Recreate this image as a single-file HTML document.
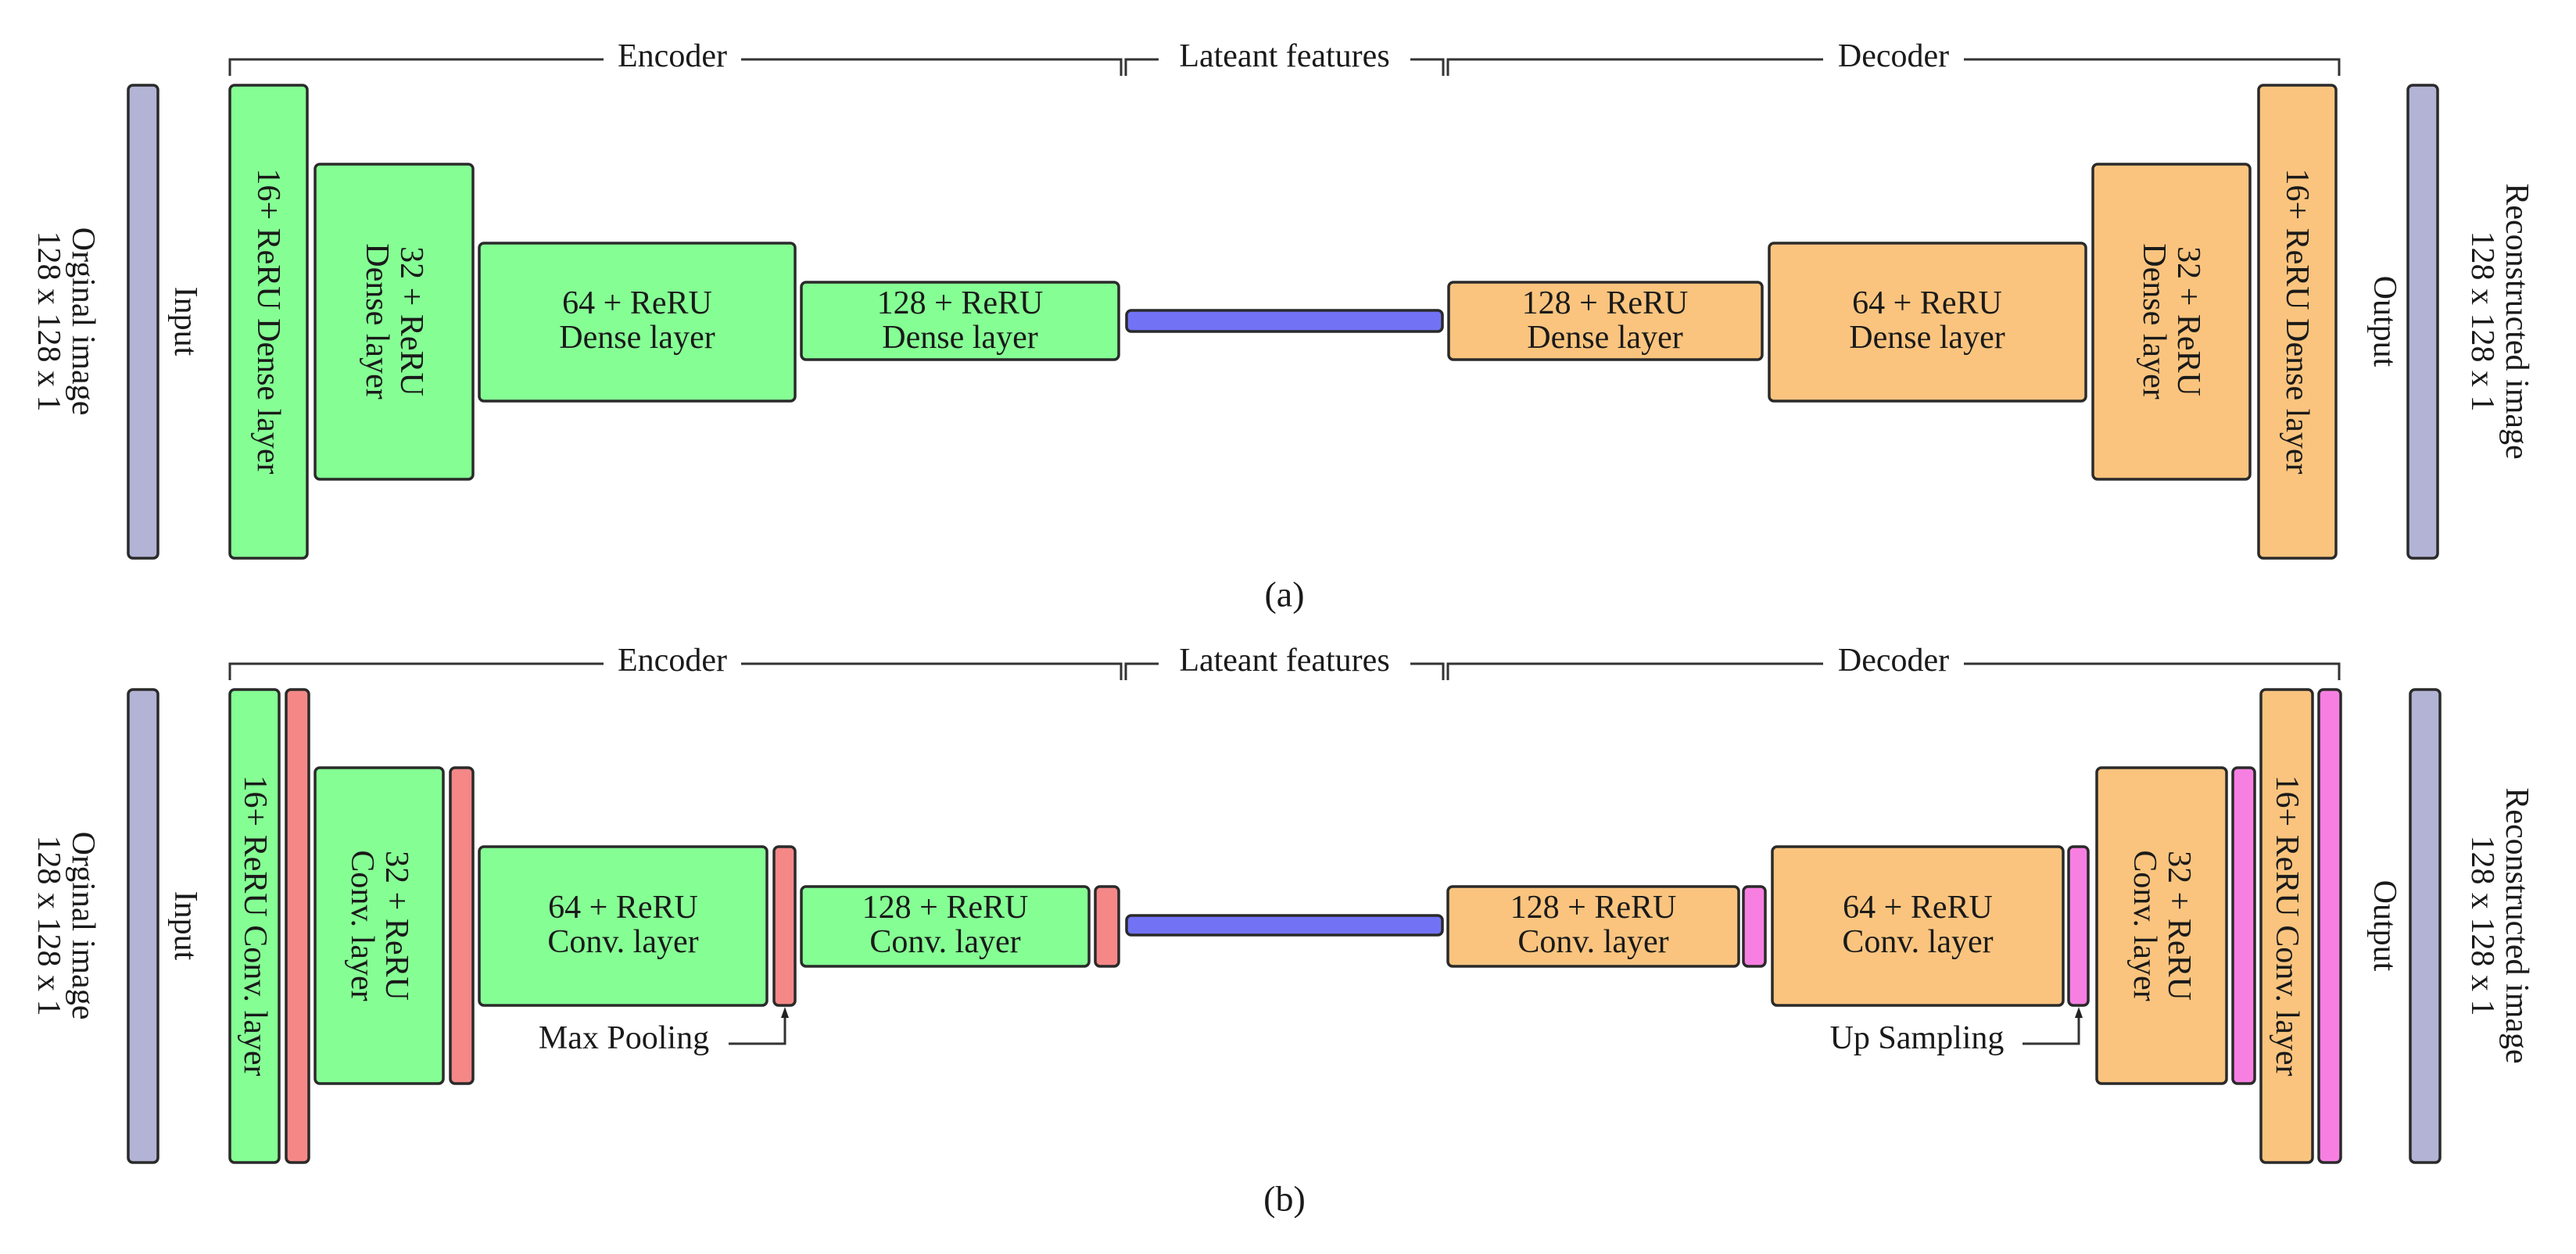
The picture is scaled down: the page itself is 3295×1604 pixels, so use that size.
<!DOCTYPE html>
<html><head><meta charset="utf-8"><style>
html,body{margin:0;padding:0;background:#fff;}
svg{display:block;}
text{font-family:"Liberation Serif",serif;fill:#1a1a1a;}
.b{stroke:#2a2a2a;stroke-width:3.5;}
.g{fill:#85ff94}.o{fill:#fac47e}.p{fill:#b3b3d6}.l{fill:#7272f5}.r{fill:#f58787}.m{fill:#f77fe2}
.t{font-size:42px;text-anchor:middle;dominant-baseline:central;}
.ln{stroke:#333;stroke-width:3;fill:none;}
</style></head><body>
<svg width="3295" height="1604" viewBox="0 0 3295 1604" xmlns="http://www.w3.org/2000/svg">
<defs>
<g id="bracket">
<polyline class="ln" points="294,97 294,76 1434,76 1434,97"/>
<polyline class="ln" points="1440,97 1440,76 1846,76 1846,97"/>
<polyline class="ln" points="1852,97 1852,76 2992,76 2992,97"/>
</g>
</defs>

<!-- ===== (a) ===== -->
<use href="#bracket"/>
<rect x="772" y="54" width="176" height="44" fill="#fff"/>
<text class="t" x="860" y="72">Encoder</text>
<rect x="1482" y="54" width="322" height="44" fill="#fff"/>
<text class="t" x="1643" y="72">Lateant features</text>
<rect x="2332" y="54" width="180" height="44" fill="#fff"/>
<text class="t" x="2422" y="72">Decoder</text>

<rect class="b p" x="164" y="109" width="38" height="605" rx="6"/>
<rect class="b g" x="294" y="109" width="99" height="605" rx="6"/>
<rect class="b g" x="403" y="210" width="202" height="403" rx="6"/>
<rect class="b g" x="613" y="311" width="404" height="202" rx="6"/>
<rect class="b g" x="1025" y="361" width="406" height="99" rx="6"/>
<rect class="b l" x="1441" y="397" width="404" height="27" rx="6"/>
<rect class="b o" x="1853" y="361" width="401" height="99" rx="6"/>
<rect class="b o" x="2263" y="311" width="405" height="202" rx="6"/>
<rect class="b o" x="2677" y="210" width="201" height="403" rx="6"/>
<rect class="b o" x="2889" y="109" width="99" height="605" rx="6"/>
<rect class="b p" x="3080" y="109" width="38" height="605" rx="6"/>

<g transform="translate(84,411) rotate(90)"><text class="t" y="-22">Orginal image</text><text class="t" y="22">128 x 128 x 1</text></g>
<g transform="translate(237,411) rotate(90)"><text class="t">Input</text></g>
<g transform="translate(343,411) rotate(90)"><text class="t">16+ ReRU Dense layer</text></g>
<g transform="translate(504,411) rotate(90)"><text class="t" y="-22">32 + ReRU</text><text class="t" y="22">Dense layer</text></g>
<text class="t" x="815" y="388">64 + ReRU</text><text class="t" x="815" y="432">Dense layer</text>
<text class="t" x="1228" y="388">128 + ReRU</text><text class="t" x="1228" y="432">Dense layer</text>
<text class="t" x="2053" y="388">128 + ReRU</text><text class="t" x="2053" y="432">Dense layer</text>
<text class="t" x="2465" y="388">64 + ReRU</text><text class="t" x="2465" y="432">Dense layer</text>
<g transform="translate(2777,411) rotate(90)"><text class="t" y="-22">32 + ReRU</text><text class="t" y="22">Dense layer</text></g>
<g transform="translate(2938,411) rotate(90)"><text class="t">16+ ReRU Dense layer</text></g>
<g transform="translate(3050,411) rotate(90)"><text class="t">Output</text></g>
<g transform="translate(3197,411) rotate(90)"><text class="t" y="-22">Reconstructed image</text><text class="t" y="22">128 x 128 x 1</text></g>
<text class="t" x="1643" y="760" style="font-size:46px">(a)</text>

<!-- ===== (b) ===== -->
<g transform="translate(0,773)"><use href="#bracket"/></g>
<rect x="772" y="827" width="176" height="44" fill="#fff"/>
<text class="t" x="860" y="845">Encoder</text>
<rect x="1482" y="827" width="322" height="44" fill="#fff"/>
<text class="t" x="1643" y="845">Lateant features</text>
<rect x="2332" y="827" width="180" height="44" fill="#fff"/>
<text class="t" x="2422" y="845">Decoder</text>

<rect class="b p" x="164" y="882" width="38" height="605" rx="6"/>
<rect class="b g" x="294" y="882" width="63" height="605" rx="6"/>
<rect class="b r" x="366" y="882" width="29" height="605" rx="6"/>
<rect class="b g" x="403" y="982" width="164" height="404" rx="6"/>
<rect class="b r" x="576" y="982" width="29" height="404" rx="6"/>
<rect class="b g" x="613" y="1083" width="368" height="203" rx="6"/>
<rect class="b r" x="990" y="1083" width="27" height="203" rx="6"/>
<rect class="b g" x="1025" y="1134" width="368" height="102" rx="6"/>
<rect class="b r" x="1401" y="1134" width="30" height="102" rx="6"/>
<rect class="b l" x="1441" y="1171" width="404" height="25" rx="6"/>
<rect class="b o" x="1852" y="1134" width="372" height="102" rx="6"/>
<rect class="b m" x="2230" y="1134" width="28" height="102" rx="6"/>
<rect class="b o" x="2267" y="1083" width="372" height="203" rx="6"/>
<rect class="b m" x="2646" y="1083" width="25" height="203" rx="6"/>
<rect class="b o" x="2682" y="982" width="166" height="404" rx="6"/>
<rect class="b m" x="2856" y="982" width="28" height="404" rx="6"/>
<rect class="b o" x="2892" y="882" width="66" height="605" rx="6"/>
<rect class="b m" x="2966" y="882" width="28" height="605" rx="6"/>
<rect class="b p" x="3083" y="882" width="38" height="605" rx="6"/>

<g transform="translate(84,1184) rotate(90)"><text class="t" y="-22">Orginal image</text><text class="t" y="22">128 x 128 x 1</text></g>
<g transform="translate(237,1184) rotate(90)"><text class="t">Input</text></g>
<g transform="translate(326,1184) rotate(90)"><text class="t">16+ ReRU Conv. layer</text></g>
<g transform="translate(485,1184) rotate(90)"><text class="t" y="-22">32 + ReRU</text><text class="t" y="22">Conv. layer</text></g>
<text class="t" x="797" y="1161">64 + ReRU</text><text class="t" x="797" y="1205">Conv. layer</text>
<text class="t" x="1209" y="1161">128 + ReRU</text><text class="t" x="1209" y="1205">Conv. layer</text>
<text class="t" x="2038" y="1161">128 + ReRU</text><text class="t" x="2038" y="1205">Conv. layer</text>
<text class="t" x="2453" y="1161">64 + ReRU</text><text class="t" x="2453" y="1205">Conv. layer</text>
<g transform="translate(2765,1184) rotate(90)"><text class="t" y="-22">32 + ReRU</text><text class="t" y="22">Conv. layer</text></g>
<g transform="translate(2925,1184) rotate(90)"><text class="t">16+ ReRU Conv. layer</text></g>
<g transform="translate(3050,1184) rotate(90)"><text class="t">Output</text></g>
<g transform="translate(3197,1184) rotate(90)"><text class="t" y="-22">Reconstructed image</text><text class="t" y="22">128 x 128 x 1</text></g>

<text class="t" x="798" y="1328">Max Pooling</text>
<polyline class="ln" points="932,1335 1004,1335 1004,1296"/>
<polygon points="1004,1288 999,1302 1009,1302" fill="#222"/>
<text class="t" x="2452" y="1328">Up Sampling</text>
<polyline class="ln" points="2587,1335 2659,1335 2659,1296"/>
<polygon points="2659,1288 2654,1302 2664,1302" fill="#222"/>
<text class="t" x="1643" y="1533" style="font-size:46px">(b)</text>
</svg>
</body></html>
